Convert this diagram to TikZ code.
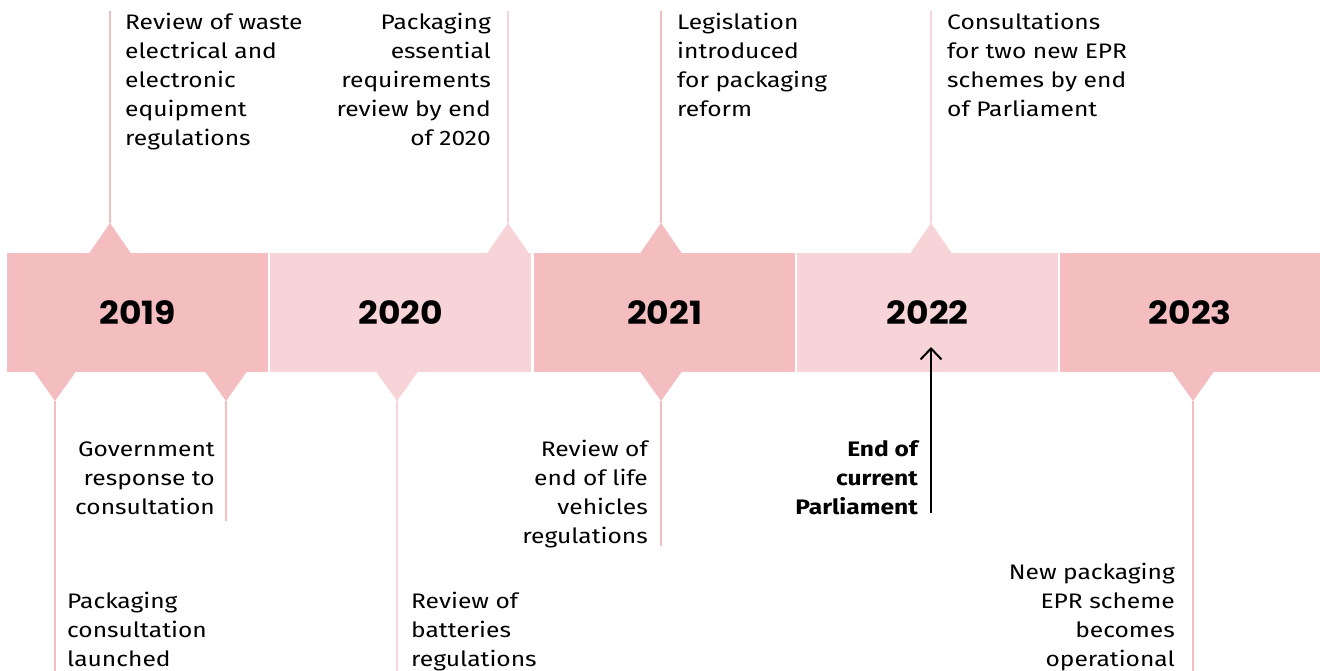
\documentclass[tikz,border=0pt]{standalone}
\usepackage{fontspec}
\setmainfont{Fira Sans}[FakeStretch=1.17]
\newfontfamily\yearfont{Poppins}[FakeStretch=1.08]
\usetikzlibrary{arrows.meta}
\definecolor{pkdark}{HTML}{F4BDC0}
\definecolor{pklight}{HTML}{F7D4D7}
\newcommand{\tlab}[2]{\begin{tabular}[t]{@{}#1@{}}#2\end{tabular}}
\tikzset{
  yearbox/.style={inner sep=0pt, minimum height=119pt, minimum width=261pt, anchor=north west},
  yeartext/.style={font=\yearfont\bfseries\fontsize{32}{32}\selectfont, inner sep=0pt},
  evtext/.style={inner sep=0pt, font=\fontsize{21}{29}\selectfont},
  stem/.style={line width=2pt},
  parl/.style={line width=2pt, black, -{Straight Barb[length=11pt,width=21pt,line width=2pt]}}
}
\begin{document}
\begin{tikzpicture}[x=1pt,y=-1pt]
\useasboundingbox (0,0) rectangle (1320,671);
% year boxes
\node[yearbox, fill=pkdark]  (b19) at (7,253) {};
\node[yearbox, fill=pklight] (b20) at (270,253) {};
\node[yearbox, fill=pkdark]  (b21) at (534,253) {};
\node[yearbox, fill=pklight] (b22) at (797,253) {};
\node[yearbox, fill=pkdark, minimum width=260pt]  (b23) at (1060,253) {};
\node[yeartext] (y19) at (b19.center) {2019};
\node[yeartext] (y20) at (b20.center) {2020};
\node[yeartext] (y21) at (b21.center) {2021};
\node[yeartext] (y22) at (b22.center) {2022};
\node[yeartext] (y23) at (b23.center) {2023};
% top markers
\foreach \x/\c/\n in {110/pkdark/a, 508/pklight/b, 661/pkdark/c, 931/pklight/d}{
  \fill[\c] (\x-21,253.5) -- (\x,223) -- (\x+21,253.5) -- cycle;
  \coordinate (ttip\n) at (\x,223);
  \coordinate (ttop\n) at (\x,11);
  \draw[stem, \c] (ttop\n) -- (ttip\n);
}
% bottom markers
\foreach \x/\c/\e/\n in {55/pkdark/671/a, 226/pkdark/521/b, 397/pklight/671/c, 661/pkdark/546/d, 1193/pkdark/671/e}{
  \fill[\c] (\x-21,371.5) -- (\x,401) -- (\x+21,371.5) -- cycle;
  \coordinate (btip\n) at (\x,401);
  \coordinate (bend\n) at (\x,\e);
  \draw[stem, \c] (btip\n) -- (bend\n);
}
% top texts
\node[evtext, anchor=base west] (t1) at (125,29.5) {\tlab{l}{Review of waste\\electrical and\\electronic\\equipment\\regulations}};
\node[evtext, anchor=base east] (t2) at (491,29.5) {\tlab{r}{Packaging\\essential\\requirements\\review by end\\of 2020}};
\node[evtext, anchor=base west] (t3) at (677,29.5) {\tlab{l}{Legislation\\introduced\\for packaging\\reform}};
\node[evtext, anchor=base west] (t4) at (947,29.5) {\tlab{l}{Consultations\\for two new EPR\\schemes by end\\of Parliament}};
% bottom texts
\node[evtext, anchor=base east] (u1) at (215,456.5) {\tlab{r}{Government\\response to\\consultation}};
\node[evtext, anchor=base west] (u2) at (67,608) {\tlab{l}{Packaging\\consultation\\launched}};
\node[evtext, anchor=base west] (u3) at (411,608) {\tlab{l}{Review of\\batteries\\regulations}};
\node[evtext, anchor=base east] (u4) at (648,456.5) {\tlab{r}{Review of\\end of life\\vehicles\\regulations}};
\node[evtext, anchor=base east, font=\bfseries\fontsize{21}{29}\selectfont] (u5) at (918,456.5) {\tlab{r}{End of\\current\\Parliament}};
\node[evtext, anchor=base east] (u6) at (1175,579.5) {\tlab{r}{New packaging\\EPR scheme\\becomes\\operational}};
% arrow
\coordinate (parlend) at (931,513);
\coordinate (parltip) at (931,347);
\draw[parl] (parlend) -- (parltip);
\end{tikzpicture}
\end{document}
